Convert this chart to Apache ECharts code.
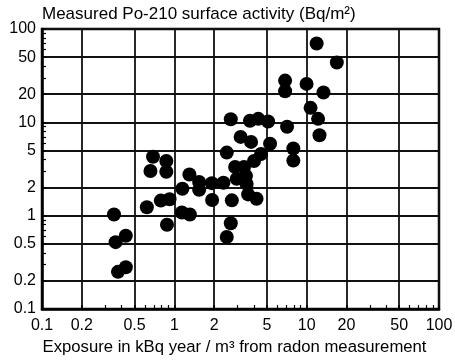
<!DOCTYPE html>
<html>
<head>
<meta charset="utf-8">
<script src="https://cdn.jsdelivr.net/npm/echarts@6/dist/echarts.min.js"></script>
<style>
html,body{margin:0;padding:0;background:#fff;}
#chart{width:455px;height:360px;}
</style>
</head>
<body>
<div id="chart"></div>
<script>
// Exposure (kBq year / m3) and measured Po-210 surface activity (Bq/m2)
var exposure = [0.35,0.43,0.36,0.43,0.375,0.62,0.79,0.92,0.88,1.14,
  1.31,0.69,0.87,0.66,0.87,1.30,1.15,1.54,1.54,1.92,
  2.35,1.93,2.72,2.67,2.49,3.61,4.18,2.88,3.36,2.96,
  3.48,3.52,4.00,4.52,5.29,3.80,3.17,2.49,2.67,3.73,
  4.31,5.11,7.11,7.93,7.93,6.87,6.87,9.98,13.4,10.7,
  12.2,12.5,11.9,16.9];
var activity = [1.03,0.61,0.52,0.28,0.25,1.23,1.45,1.50,0.80,1.08,
  1.03,4.28,3.85,3.01,2.96,2.76,1.94,2.30,1.89,2.23,
  2.25,1.47,1.46,0.83,0.59,1.69,1.52,3.32,3.32,2.48,
  2.67,2.19,3.85,4.57,5.90,6.17,6.98,4.74,10.8,10.4,
  10.9,10.2,8.96,5.25,3.89,28.0,21.5,25.8,20.9,14.3,
  10.9,7.28,69.8,43.8];

var majorTicks = [0.1,0.2,0.5,1,2,5,10,20,50,100];
var minorTicks = [0.3,0.4,0.6,0.7,0.8,0.9,3,4,6,7,8,9,30,40,60,70,80,90];

var titleText = 'Measured Po-210 surface activity (Bq/m²)';
var xName = 'Exposure in kBq year / m³ from radon measurement';

var points = exposure.map(function(x, i){ return [x, activity[i]]; });

var FONT = '"Liberation Sans", Arial, Helvetica, sans-serif';
function fmt(v){ return String(v); }

var chart = echarts.init(document.getElementById('chart'), null, {renderer:'canvas'});
var majorAxis = function(pos){
  return {
    type:'log', logBase:10, min:0.1, max:100, position:pos,
    axisLine:{show:true, lineStyle:{color:'#000', width:2.5}},
    axisTick:{show:true, customValues:majorTicks, inside:true, length:4, lineStyle:{color:'#000', width:1.5}},
    axisLabel:{show:true, customValues:majorTicks, formatter:fmt, color:'#000', fontSize:16, fontFamily:FONT, margin: pos==='bottom'?9:6},
    splitLine:{show:true, lineStyle:{color:'#111', width:1.8}},
    minorTick:{show:false}, minorSplitLine:{show:false}
  };
};
var minorAxis = function(pos){
  return {
    type:'log', logBase:10, min:0.1, max:100, position:pos,
    axisLine:{show:false},
    axisTick:{show:true, customValues:minorTicks, inside:true, length:4, lineStyle:{color:'#000', width:1.2}},
    axisLabel:{show:false},
    splitLine:{show:false}
  };
};

var xa0 = majorAxis('bottom');
xa0.name = xName;
xa0.nameLocation = 'middle';
xa0.nameGap = 30;
xa0.nameTextStyle = {color:'#000', fontSize:16.7, fontFamily:FONT, padding:[0,12,0,0]};

chart.setOption({
  animation:false,
  backgroundColor:'#fff',
  title:{text:titleText, left:42, top:6, padding:0, textStyle:{color:'#000', fontSize:17, fontWeight:'normal', fontFamily:FONT}},
  grid:{left:42, right:16, top:29, bottom:51, show:true, borderColor:'#000', borderWidth:2.5, containLabel:false, outerBoundsMode:'none'},
  xAxis:[xa0, minorAxis('bottom')],
  yAxis:[majorAxis('left'), minorAxis('left')],
  series:[{
    type:'scatter', xAxisIndex:0, yAxisIndex:0,
    data:points, symbol:'circle', symbolSize:14,
    itemStyle:{color:'#000', opacity:1}
  }]
});
</script>
</body>
</html>
